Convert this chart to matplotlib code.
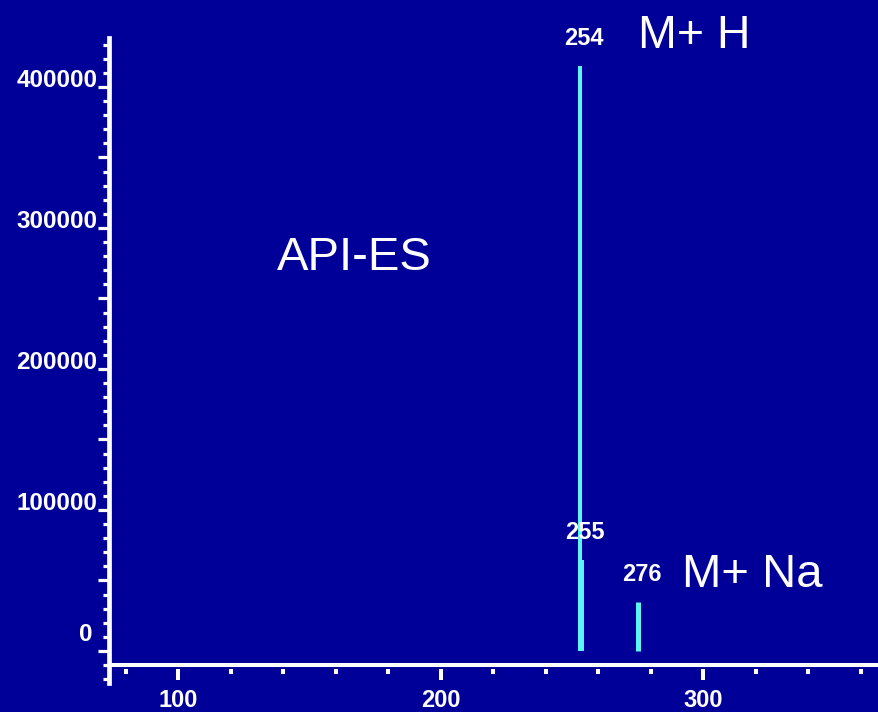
"""
API-ES 질량 스펙트럼 재현 — M+H / M+Na 피크
"""
import matplotlib
matplotlib.use("Agg")
import matplotlib.pyplot as plt
import matplotlib.ticker as mticker
from matplotlib.transforms import ScaledTranslation

# ── 데이터 ──
peak_mz = [253.0, 253.35, 274.95]          # 축 눈금으로 읽은 위치
peak_intensity = [415000, 64500, 34800]
peak_labels = ["254", "255", "276"]

x_ticks = [100, 200, 300]
x_tick_labels = ["100", "200", "300"]
y_ticks = [0, 50000, 100000, 150000, 200000, 250000, 300000, 350000, 400000]
y_tick_labels = ["0", "", "100000", "", "200000", "", "300000", "", "400000"]

BG = "#000099"
PEAK = "#5CF5F5"
FONT = ["Liberation Sans", "DejaVu Sans"]

plt.rcParams["font.family"] = FONT

fig = plt.figure(figsize=(8.79, 7.12), dpi=100, facecolor=BG)
ax = fig.add_axes([109.5 / 879, 29 / 712, 769.5 / 879, 645 / 712])
ax.set_facecolor(BG)

ax.set_xlim(73.9, 366.9)
ax.set_ylim(-22700, 434750)

# 피크 (254 위에 255가 겹쳐 그려짐)
ax.vlines(peak_mz, 0, peak_intensity, colors=PEAK,
          linewidths=[2.9, 4.3, 3.6], zorder=3)

for mz, inten, lab in zip(peak_mz, peak_intensity, peak_labels):
    ax.annotate(lab, (mz, inten), xytext=(2.9, 15.0), textcoords="offset points",
                ha="center", va="baseline", color="white",
                fontsize=17, fontweight="bold")

ax.annotate("M+ H", (peak_mz[0], peak_intensity[0]), xytext=(82, 13.2),
            textcoords="offset points", ha="center", va="baseline",
            color="white", fontsize=33.5)
ax.annotate("M+ Na", (peak_mz[2], peak_intensity[2]), xytext=(82.5, 10.6),
            textcoords="offset points", ha="center", va="baseline",
            color="white", fontsize=34)

ax.text(0.3184, (683 - 270) / 645, "API-ES", transform=ax.transAxes,
        ha="center", va="baseline", color="white", fontsize=34)

# ── 축 ──
for s in ["top", "right", "bottom"]:
    ax.spines[s].set_visible(False)
ax.spines["left"].set_color("white")
ax.spines["left"].set_linewidth(3.4)
ax.spines["bottom"].set_position(("data", -12800))
ax.axhline(-10000, color="white", linewidth=2.9, zorder=4)

ax.set_xticks(x_ticks, x_tick_labels)
ax.xaxis.set_minor_locator(mticker.MultipleLocator(20))
ax.tick_params(axis="x", which="major", direction="out", length=7.9, width=2.9,
               color="white", labelcolor="white", labelsize=17, pad=6.5)
ax.tick_params(axis="x", which="minor", direction="out", length=3.6, width=2.9,
               color="white")

ax.set_yticks(y_ticks, y_tick_labels)
ax.yaxis.set_minor_locator(mticker.MultipleLocator(10000))
ax.tick_params(axis="y", which="major", direction="out", length=8.0, width=2.3,
               color="white", labelcolor="white", labelsize=17.5, pad=0.8)
ax.tick_params(axis="y", which="minor", direction="out", length=4.3, width=2.3,
               color="white")

for lab in ax.get_xticklabels() + ax.get_yticklabels():
    lab.set_fontweight("bold")
for lab in ax.get_yticklabels():
    lab.set_va("baseline")
# 원본에서 0 라벨은 눈금보다 위쪽에 찍혀 있음
zero = ax.get_yticklabels()[0]
zero.set_transform(zero.get_transform() + ScaledTranslation(-5 / 100, 9.5 / 100, fig.dpi_scale_trans))

fig.savefig("out.png", dpi=100, facecolor=BG)
